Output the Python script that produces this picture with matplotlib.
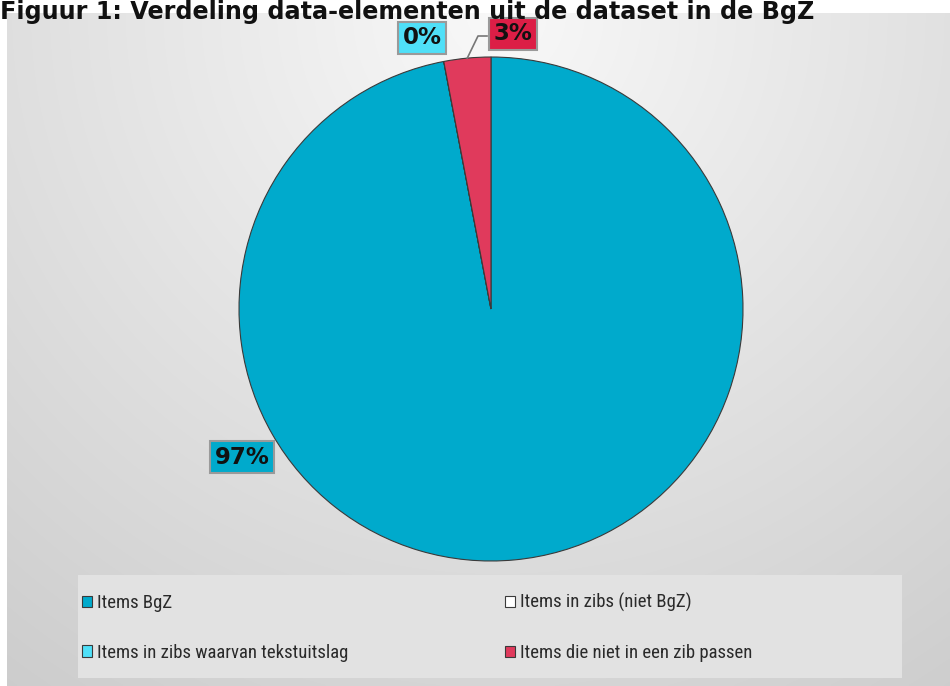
import numpy as np
import matplotlib
matplotlib.use("Agg")
import matplotlib.pyplot as plt
from matplotlib.patches import Rectangle
from matplotlib import font_manager as fm

categories = ["Items BgZ", "Items in zibs (niet BgZ)",
              "Items in zibs waarvan tekstuitslag", "Items die niet in een zib passen"]
values = [97, 0, 0, 3]
colors = ["#00AACC", "#FFFFFF", "#4FE0F8", "#E03A5C"]
label_box_colors = {"97%": "#00AACC", "0%": "#4FE0F8", "3%": "#DC1E46"}
title = "Figuur 1: Verdeling data-elementen uit de dataset in de BgZ"

W, H = 950, 686
fig = plt.figure(figsize=(W / 100, H / 100), dpi=100)
fig.patch.set_facecolor("white")

# pick a narrow sans for the legend if one is present
installed = {f.name for f in fm.fontManager.ttflist}
legend_font = "Roboto"
for cand in ["Roboto Condensed", "Open Sans Condensed", "Fira Sans Condensed",
             "PT Sans Narrow", "Liberation Sans Narrow", "Encode Sans Condensed",
             "Asap Condensed", "Roboto"]:
    if cand in installed:
        legend_font = cand
        break

# background gradient panel
bg = fig.add_axes([7 / W, 0, (W - 7) / W, (H - 13) / H])
bg.set_axis_off()
yy, xx = np.mgrid[0:1:300j, 0:1:400j]
d = np.sqrt(((xx - 0.52) / 0.75) ** 2 + ((yy - 0.0) / 1.05) ** 2)
g = 0.975 - 0.19 * np.clip(d, 0, 1.3) / 1.3
bg.imshow(np.dstack([g, g, g]), extent=[0, 1, 1, 0], aspect="auto", interpolation="bilinear")
bg.set_xlim(0, 1); bg.set_ylim(1, 0)

# pie
cx, cy, r = 491, 309, 252
ax = fig.add_axes([(cx - r) / W, (H - cy - r) / H, 2 * r / W, 2 * r / H])
wedges, _ = ax.pie(values, colors=colors, startangle=90, counterclock=False,
                   radius=1, wedgeprops=dict(edgecolor="#3a3a3a", linewidth=0.8))
ax.set_xlim(-1, 1); ax.set_ylim(-1, 1)
ax.set_aspect("equal")
ax.set_axis_off()

def px2data(px, py):
    return (px - cx) / r, (cy - py) / r

lab_pos = {"97%": (242, 457), "0%": (422, 38), "3%": (513, 34)}
for lab, (px, py) in lab_pos.items():
    x, y = px2data(px, py)
    ax.text(x, y, lab, ha="center", va="center", fontsize=16.5, fontweight="bold",
            family="DejaVu Sans", color="#111111", clip_on=False,
            bbox=dict(boxstyle="square,pad=0.18", facecolor=label_box_colors[lab],
                      edgecolor="#9a9a9a", linewidth=1.5))

# leader line for 3%
w = wedges[3]
mid = np.deg2rad((w.theta1 + w.theta2) / 2)
ex, ey = np.cos(mid), np.sin(mid)
bx, by = px2data(487, 36)
kx, _ = px2data(478, 36)
ax.plot([bx, kx, ex], [by, by, ey], color="#777777", lw=1.2, clip_on=False)

# legend frame
fig.patches.append(Rectangle((78 / W, 8 / H), 824 / W, 103 / H, transform=fig.transFigure,
                             facecolor="#e2e2e2", edgecolor="none", zorder=1))
order = [0, 2, 1, 3]
fsize = 13.5

def make_legend(cs):
    lg = fig.legend([wedges[i] for i in order], [categories[i] for i in order],
                    ncol=2, loc="center left",
                    bbox_to_anchor=(82 / W, 58.5 / H), frameon=False,
                    handlelength=0.55, handleheight=0.55, handletextpad=0.25,
                    labelspacing=1.68, borderpad=0, borderaxespad=0, columnspacing=cs,
                    prop=dict(family=legend_font, size=fsize))
    for t in lg.get_texts():
        t.set_color("#2a2a2a")
    return lg

cs = 10.0
leg = make_legend(cs)
fig.canvas.draw()
col2_x = leg.legend_handles[2].get_window_extent().x0
cs_new = cs + (505 - col2_x) / (fsize * 100 / 72)
leg.remove()
leg = make_legend(cs_new)

fig.text(0, 1.0, title, ha="left", va="top", fontsize=17.2,
         fontweight="bold", family="DejaVu Sans", color="#111111")

fig.savefig("out.png", dpi=100)
